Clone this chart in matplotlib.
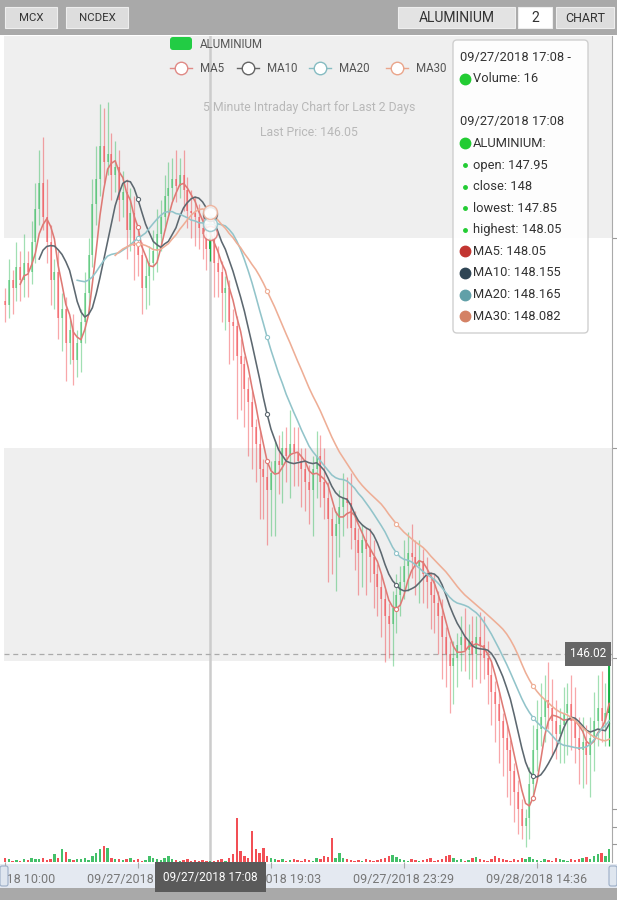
import matplotlib
matplotlib.use("Agg")
import matplotlib.pyplot as plt
import matplotlib.transforms as mtrans
from matplotlib.patches import Rectangle, FancyBboxPatch
import numpy as np
import pandas as pd

plt.rcParams['font.family'] = ['Roboto', 'DejaVu Sans']

# ===========================
# DATA (5 minute candles)
# ===========================
closes = [
    147.68, 147.80, 147.76, 147.86, 147.80, 147.88, 147.84, 147.98, 148.14, 148.26,
    148.10, 147.98, 147.80, 147.84, 147.62, 147.66, 147.50, 147.56, 147.42, 147.50,
    147.60, 147.74, 147.92, 148.16, 148.28, 148.44, 148.36, 148.40, 148.30, 148.34,
    148.18, 148.22, 148.04, 148.12, 147.96, 147.92, 147.76, 147.82, 147.88, 147.94,
    148.02, 148.10, 148.20, 148.24, 148.28, 148.25, 148.30, 148.23, 148.13, 148.12,
    148.10, 148.05, 148.02, 147.95, 148.00, 147.88, 147.84, 147.74, 147.76, 147.60,
    147.58, 147.44, 147.40, 147.28, 147.22, 147.10, 147.02, 146.90, 146.86, 146.80,
    146.88, 146.94, 146.92, 147.00, 146.96, 147.02, 146.98, 146.94, 146.90, 146.84,
    146.80, 146.90, 146.96, 146.84, 146.76, 146.66, 146.58, 146.64, 146.72, 146.76,
    146.74, 146.62, 146.56, 146.50, 146.56, 146.52, 146.48, 146.40, 146.34, 146.28,
    146.20, 146.16, 146.24, 146.30, 146.36, 146.44, 146.50, 146.48, 146.44, 146.46,
    146.40, 146.36, 146.30, 146.26, 146.20, 146.10, 146.02, 145.96, 146.00, 146.06,
    146.10, 146.04, 146.08, 146.02, 146.10, 146.06, 146.00, 145.92, 145.84, 145.78,
    145.70, 145.62, 145.56, 145.46, 145.36, 145.28, 145.20, 145.24, 145.40, 145.56,
    145.66, 145.72, 145.80, 145.76, 145.70, 145.64, 145.68, 145.74, 145.78, 145.70,
    145.62, 145.56, 145.60, 145.54, 145.62, 145.70, 145.76, 145.70, 145.74, 146.02,
]
first_open = 147.70

# upper / lower wick beyond the body, in hundredths
wick_up = [
    6, 10, 5, 12, 8, 14, 6, 10, 12, 16,
    22, 18, 8, 6, 10, 8, 6, 5, 8, 6,
    6, 10, 8, 12, 16, 20, 18, 25, 10, 12,
    8, 10, 6, 12, 8, 10, 6, 8, 8, 10,
    12, 8, 10, 12, 10, 14, 8, 12, 6, 10,
    8, 6, 6, 4, 5, 6, 8, 5, 6, 4,
    6, 5, 8, 4, 6, 5, 4, 6, 5, 8,
    6, 10, 12, 8, 10, 16, 8, 12, 6, 10,
    8, 6, 12, 10, 16, 8, 6, 6, 8, 12,
    10, 14, 8, 6, 8, 6, 10, 8, 5, 6,
    5, 6, 8, 10, 8, 12, 10, 14, 8, 10,
    6, 8, 5, 10, 6, 8, 5, 6, 8, 6,
    10, 14, 8, 12, 10, 12, 14, 8, 6, 5,
    6, 4, 6, 5, 4, 6, 5, 4, 8, 12,
    14, 16, 12, 18, 14, 10, 8, 12, 10, 14,
    16, 10, 12, 8, 10, 14, 16, 18, 14, 2,
]
wick_dn = [
    8, 6, 12, 6, 10, 8, 12, 6, 10, 8,
    6, 10, 12, 14, 10, 16, 18, 10, 12, 8,
    14, 10, 8, 6, 10, 8, 10, 6, 12, 8,
    10, 8, 14, 10, 16, 10, 12, 10, 14, 8,
    10, 8, 6, 8, 6, 8, 6, 10, 8, 12,
    14, 10, 12, 10, 6, 16, 12, 14, 18, 20,
    16, 30, 22, 18, 26, 20, 18, 24, 20, 26,
    22, 30, 14, 18, 12, 20, 16, 12, 18, 14,
    16, 22, 14, 12, 10, 30, 18, 26, 16, 14,
    12, 10, 14, 20, 16, 22, 12, 16, 14, 18,
    22, 16, 20, 12, 10, 8, 12, 10, 14, 18,
    14, 12, 16, 14, 18, 20, 16, 22, 18, 14,
    12, 10, 14, 16, 12, 18, 10, 14, 16, 18,
    20, 18, 22, 16, 14, 12, 6, 10, 10, 8,
    10, 8, 12, 10, 16, 12, 14, 18, 20, 14,
    12, 16, 18, 14, 20, 16, 12, 10, 12, 16,
]
volumes = [
    60, 40, 20, 30, 20, 40, 30, 60, 50, 40,
    60, 30, 40, 120, 60, 210, 160, 40, 30, 50,
    40, 60, 30, 90, 150, 200, 250, 230, 60, 40,
    50, 30, 40, 60, 30, 40, 20, 30, 90, 60,
    40, 30, 60, 90, 40, 30, 20, 30, 40, 20,
    30, 20, 30, 20, 16, 20, 30, 40, 20, 60,
    120, 700, 180, 90, 60, 500, 200, 150, 220, 90,
    60, 40, 30, 40, 20, 30, 50, 30, 20, 40,
    30, 20, 60, 40, 90, 80, 380, 70, 140, 60,
    40, 30, 20, 30, 20, 40, 30, 20, 30, 40,
    60, 90, 110, 80, 40, 30, 20, 40, 30, 20,
    30, 40, 60, 20, 30, 40, 90, 110, 60, 30,
    40, 20, 30, 60, 80, 40, 30, 20, 40, 90,
    60, 40, 30, 20, 40, 30, 60, 50, 80, 40,
    30, 20, 40, 30, 20, 60, 40, 30, 20, 40,
    30, 40, 60, 80, 50, 90, 120, 140, 100, 200,
]

tick_idx = [0, 35, 70, 105, 140]
tick_labels = ["09/27/2018 10:00", "09/27/2018 15:18", "09/27/2018 19:03",
               "09/27/2018 23:29", "09/28/2018 14:36"]
hover_idx = 54
hover_label = "09/27/2018 17:08"
last_label = "146.02"

ma_periods = [5, 10, 20, 30]
ma_line_colors = ["#de7a75", "#5d6870", "#92c4ca", "#eeae96"]
ma_marks = [35, 69, 103, 139]

tooltip_rows = [
    ("09/27/2018 17:08 -", None), ("Volume: 16", "#22cc33"), ("", None),
    ("09/27/2018 17:08", None), ("ALUMINIUM:", "#22cc33"),
    ("open: 147.95", "small"), ("close: 148", "small"),
    ("lowest: 147.85", "small"), ("highest: 148.05", "small"),
    ("MA5: 148.05", "#c23531"), ("MA10: 148.155", "#2f4554"),
    ("MA20: 148.165", "#61a0a8"), ("MA30: 148.082", "#d48265"),
]

# ===========================
# PREP
# ===========================
df = pd.DataFrame({"close": closes, "up": wick_up, "dn": wick_dn, "vol": volumes})
df["open"] = df["close"].shift(1).fillna(first_open)
df["high"] = df[["open", "close"]].max(axis=1) + df["up"] / 100
df["low"] = df[["open", "close"]].min(axis=1) - df["dn"] / 100
x = np.arange(len(df))
rising = (df["close"] >= df["open"]).values

W, H = 617, 900
fig = plt.figure(figsize=(W / 100, H / 100), dpi=100)

# background pieces (toolbar, chart area, slider strip)
bg = fig.add_axes([0, 0, 1, 1], zorder=-5)
bg.set_xlim(0, W); bg.set_ylim(H, 0); bg.axis("off")
bg.add_patch(Rectangle((0, 0), W, 35, fc="#a9a9a9", ec="none"))
bg.add_patch(Rectangle((0, 35), W, 829, fc="white", ec="none"))
bg.add_patch(Rectangle((0, 864), W, 24, fc="#e4e9f1", ec="none"))
bg.add_patch(Rectangle((0, 888), W, 12, fc="#a9a9a9", ec="none"))

# ===========================
# MAIN CANDLE AXES
# ===========================
ax = fig.add_axes([4 / W, 1 - 862 / H, 608 / W, 826 / H], zorder=1)
ax.set_facecolor("none")
ax.set_xlim(-0.26, 159.74)
ax.set_ylim(145.029, 148.962)
ax.axhspan(148, 150, color="#efefef", lw=0, zorder=0)
ax.axhspan(145.985, 147, color="#efefef", lw=0, zorder=0)

up_rgba = np.array(matplotlib.colors.to_rgba("#14b143"))
dn_rgba = np.array(matplotlib.colors.to_rgba("#ef232a"))
cols = np.where(rising[:, None], up_rgba, dn_rgba).copy()
cols[:, 3] = 0.4
cols[hover_idx, 3] = 0.95
cols[-1, 3] = 0.95

ax.vlines(x, df["low"], df["high"], colors=cols, lw=0.9, zorder=2)
body_lo = df[["open", "close"]].min(axis=1)
body_h = (df["close"] - df["open"]).abs().clip(lower=0.01)
ax.bar(x, body_h, bottom=body_lo, width=0.55, color=cols, lw=0, zorder=2)

for n, lc in zip(ma_periods, ma_line_colors):
    ma = df["close"].rolling(n).mean()
    ax.plot(x, ma, color=lc, lw=1.15, zorder=3, marker="o", markevery=ma_marks,
            ms=3, mfc="white", mec=lc, mew=0.8)
    ax.plot(hover_idx, ma[hover_idx], "o", ms=10, mfc="white", mec=lc, mew=1.1,
            alpha=0.85, zorder=4)

ax.axvline(hover_idx, color="#cccccc", lw=1.8, zorder=1)
last = df["close"].iloc[-1]
ax.axhline(last, color="#aaaaaa", lw=0.9, ls=(0, (4, 3)), zorder=1)

ax.yaxis.tick_right()
ax.set_yticks([146, 147, 148])
ax.set_yticklabels([])
ax.tick_params(axis="y", length=4, color="#999999")
ax.set_xticks(tick_idx)
ax.set_xticklabels(tick_labels)
ax.tick_params(axis="x", length=4, color="#aaaaaa", pad=4, labelsize=9, labelcolor="#777777")
for s in ["top", "left", "bottom"]:
    ax.spines[s].set_visible(False)
ax.spines["right"].set_color("#aaaaaa")

# ===========================
# VOLUME AXES
# ===========================
vax = fig.add_axes([4 / W, 1 - 862 / H, 608 / W, 72 / H], zorder=2)
vax.set_facecolor("none")
vax.set_xlim(ax.get_xlim())
vax.set_ylim(0, 1145)
vcols = cols.copy()
vcols[:, 3] = 0.8
vax.bar(x, df["vol"], width=0.6, color=vcols, lw=0)
vax.yaxis.tick_right()
vax.set_yticks([280, 560, 840])
vax.set_yticklabels([])
vax.set_xticks([])
vax.tick_params(axis="y", length=4, color="#999999")
for s in vax.spines.values():
    s.set_visible(False)

# ===========================
# OVERLAY (toolbar, legend, tooltip, labels)
# ===========================
ov = fig.add_axes([0, 0, 1, 1], zorder=10)
ov.set_xlim(0, W); ov.set_ylim(H, 0); ov.axis("off")

def button(x0, w, text, fc="#dddddd", fs=8.2):
    ov.add_patch(Rectangle((x0, 7), w, 21, fc=fc, ec="#eeeeee", lw=0.8))
    ov.text(x0 + w / 2, 18, text, ha="center", va="center", fontsize=fs, color="#333333")

button(5, 52, "MCX")
button(66, 62, "NCDEX")
button(398, 117, "ALUMINIUM", fc="#e3e3e3", fs=10)
button(518, 34, "2", fc="white", fs=10)
button(556, 58, "CHART", fs=9)

# slider handles
for hx in (0, 609):
    ov.add_patch(FancyBboxPatch((hx, 866), 8, 20, boxstyle="round,pad=0,rounding_size=2",
                                fc="#dfe6ef", ec="#9badc6", lw=0.8))

# legend
ov.add_patch(FancyBboxPatch((170, 37), 22, 13, boxstyle="round,pad=0,rounding_size=3",
                            fc="#22cc44", ec="none"))
ov.text(200, 44, "ALUMINIUM", fontsize=8.3, color="#555555", va="center")
leg_x = [170, 237, 309, 386]
leg_cols = ["#e08a86", "#666666", "#86bcc2", "#eaa58b"]
for lx, lc, n in zip(leg_x, leg_cols, ma_periods):
    ov.plot([lx, lx + 22], [68, 68], color=lc, lw=1)
    ov.plot(lx + 11, 68, "o", ms=9, mfc="white", mec=lc, mew=1)
    ov.text(lx + 30, 68, "MA%d" % n, fontsize=8.3, color="#555555", va="center")

ov.text(309, 108, "5 Minute Intraday Chart for Last 2 Days", fontsize=8.8,
        color="#b8b8b8", ha="center", va="center")
ov.text(309, 132, "Last Price: 146.05", fontsize=8.8, color="#b8b8b8",
        ha="center", va="center")

# tooltip
ov.add_patch(FancyBboxPatch((453, 40), 135, 293, boxstyle="round,pad=0,rounding_size=4",
                            fc="white", ec="#cccccc", lw=1, alpha=0.93))
ty = 57
for text, dot in tooltip_rows:
    if dot is None:
        ov.text(460, ty, text, fontsize=9.3, color="#333333", va="center")
    elif dot == "small":
        ov.plot(465, ty, "o", ms=2.5, color="#22cc33")
        ov.text(473, ty, text, fontsize=9.3, color="#333333", va="center")
    else:
        ov.plot(465, ty, "o", ms=7.5, color=dot)
        ov.text(473, ty, text, fontsize=9.3, color="#333333", va="center")
    ty += 21.6

# last price label, y follows the last close
blend_y = mtrans.blended_transform_factory(ov.transData, ax.transData)
ov.text(588, last, last_label, transform=blend_y, ha="center", va="center",
        fontsize=8.5, color="white",
        bbox=dict(boxstyle="square,pad=0.45", fc="#666666", ec="none"))

# axis pointer label, x follows the hovered candle
blend_x = mtrans.blended_transform_factory(ax.transData, ov.transData)
ov.text(hover_idx, 877, hover_label, transform=blend_x, ha="center", va="center",
        fontsize=8.5, color="white",
        bbox=dict(boxstyle="square,pad=0.7", fc="#5a5a5a", ec="none"))

fig.savefig("out.png", dpi=100)
